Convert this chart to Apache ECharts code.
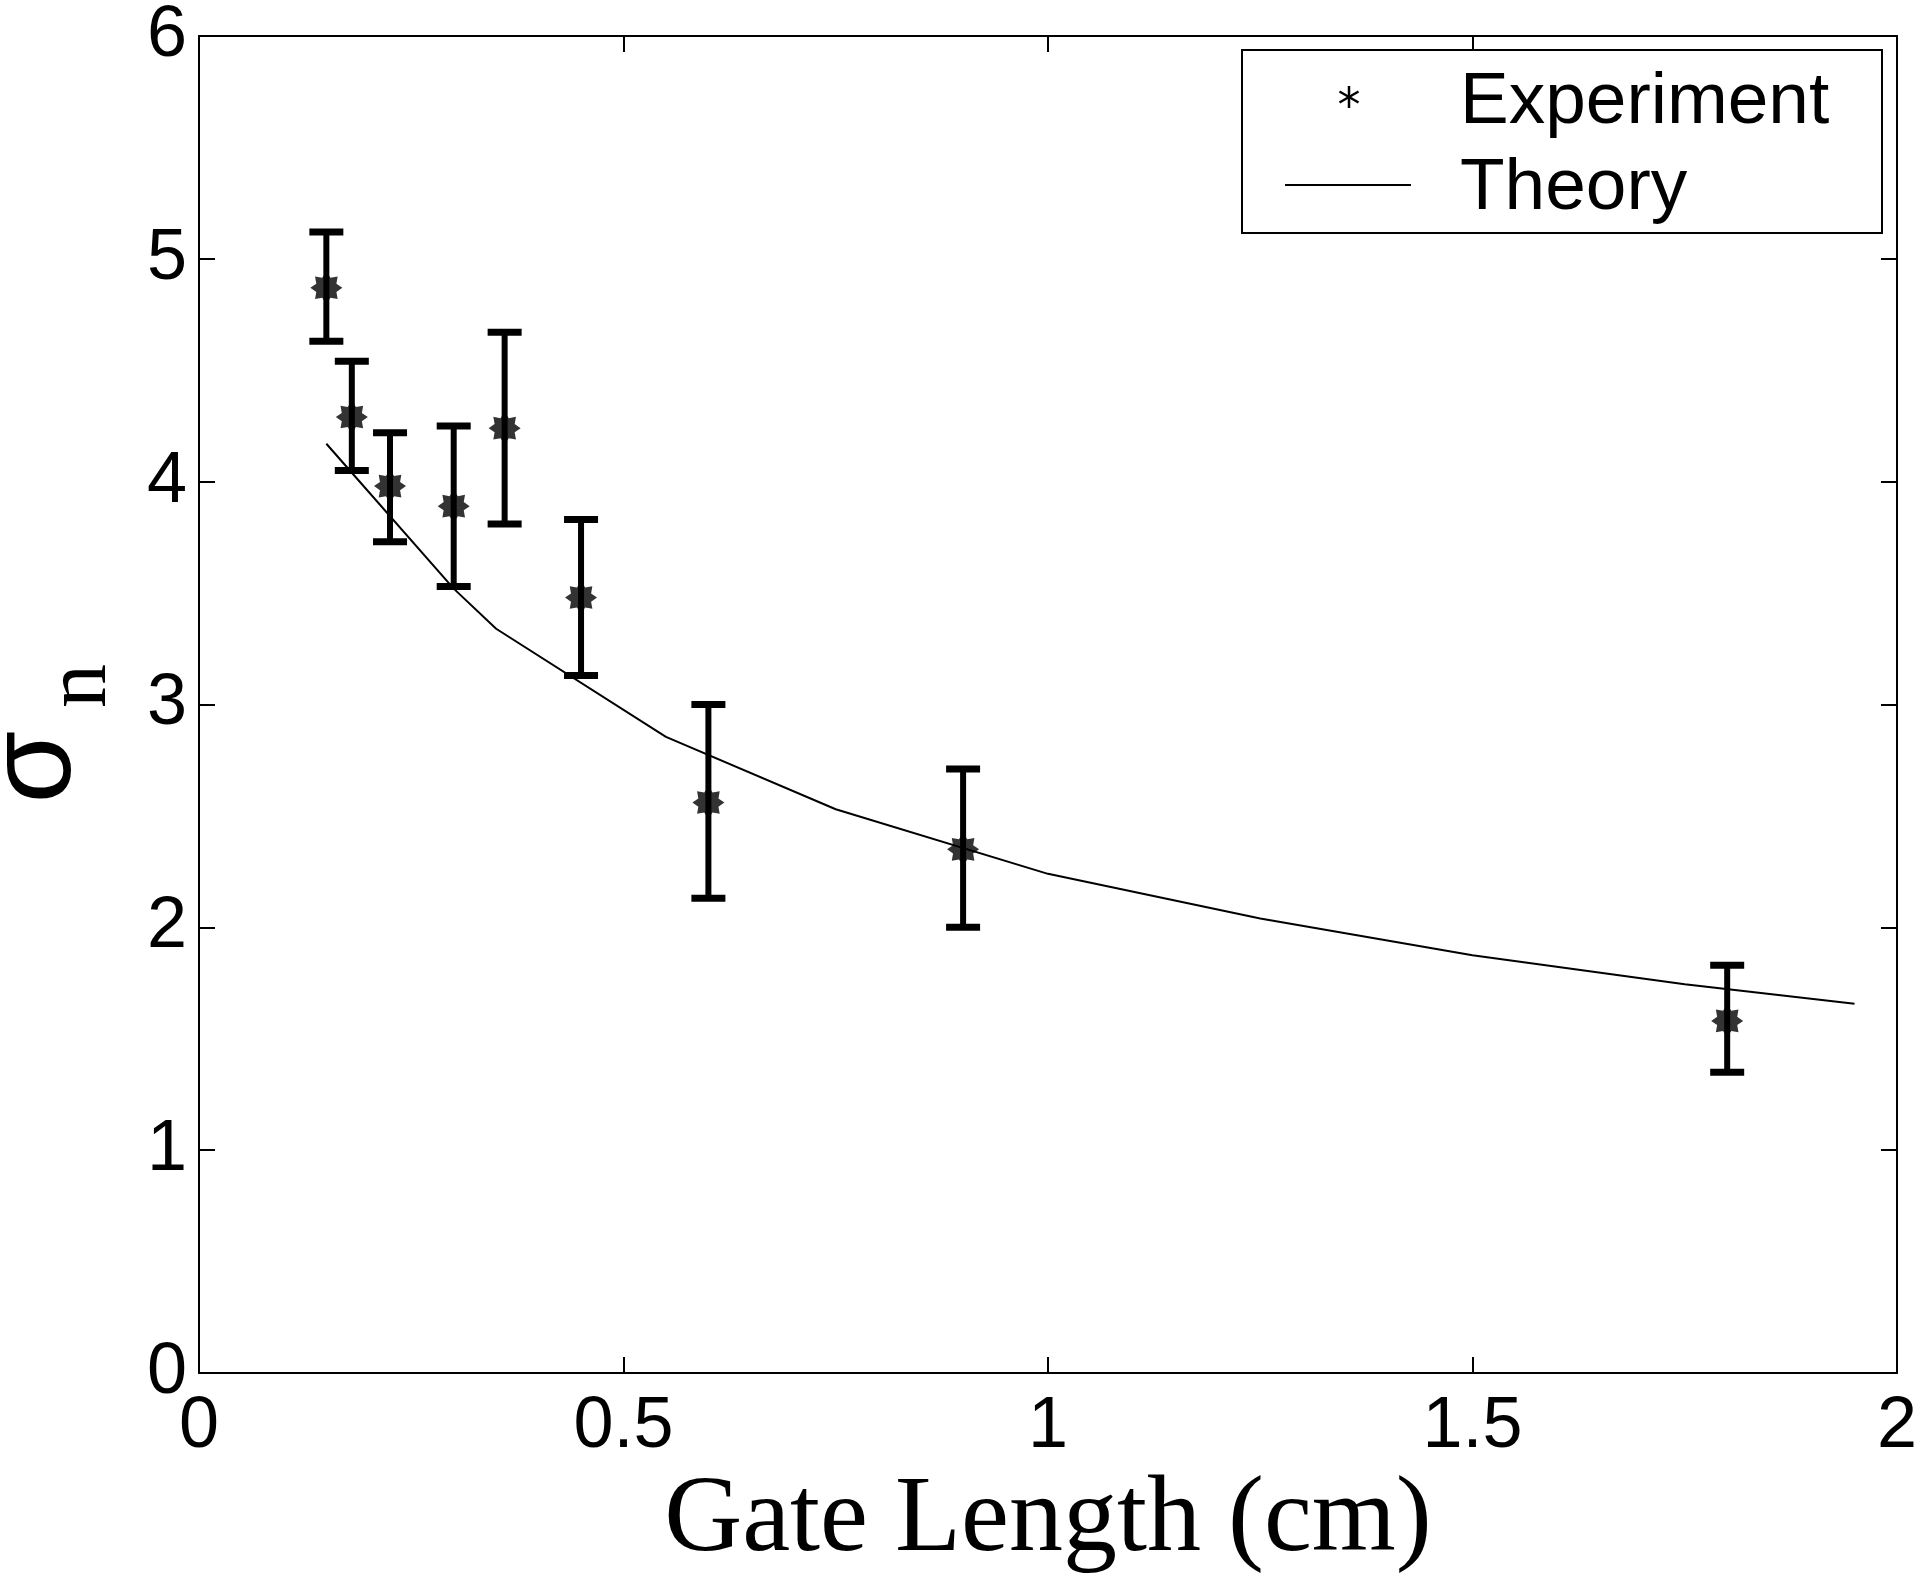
<!DOCTYPE html>
<html>
<head>
<meta charset="utf-8">
<script src="https://cdn.jsdelivr.net/npm/echarts@6/dist/echarts.min.js"></script>
<style>
html,body{margin:0;padding:0;background:#fff;}
#chart{width:1920px;height:1581px;}
</style>
</head>
<body>
<div id="chart"></div>
<script>
// ---- data ----
const gateLength = [0.15, 0.18, 0.225, 0.30, 0.36, 0.45, 0.60, 0.90, 1.80];
const sigmaExp   = [4.87, 4.29, 3.98, 3.89, 4.24, 3.48, 2.56, 2.35, 1.58];
const errUpper   = [5.12, 4.54, 4.22, 4.25, 4.67, 3.83, 3.00, 2.71, 1.83];
const errLower   = [4.63, 4.05, 3.73, 3.53, 3.81, 3.13, 2.13, 2.00, 1.35];
const theoryL    = [0.15, 0.30, 0.35, 0.55, 0.75, 1.00, 1.25, 1.50, 1.75, 1.95];
const theorySig  = [4.17, 3.52, 3.34, 2.855, 2.53, 2.24, 2.04, 1.875, 1.745, 1.657];
const xTicks = [0, 0.5, 1, 1.5, 2];
const yTicks = [0, 1, 2, 3, 4, 5, 6];
const xTitle = 'Gate Length (cm)';
const legendNames = ['Experiment', 'Theory'];

// ---- build ----
function starPath(n, ro, ri) {
  let d = '';
  for (let i = 0; i < 2 * n; i++) {
    const r = i % 2 === 0 ? ro : ri;
    const a = Math.PI * i / n - Math.PI / 2;
    const x = (50 + r * Math.cos(a)).toFixed(2);
    const y = (50 + r * Math.sin(a)).toFixed(2);
    d += (i === 0 ? 'M' : 'L') + x + ' ' + y + ' ';
  }
  return 'path://' + d + 'Z';
}
const STAR = starPath(8, 50, 34);

const expData = gateLength.map((x, i) => [x, sigmaExp[i]]);
const errData = gateLength.map((x, i) => [x, errUpper[i], errLower[i]]);
const theoryData = theoryL.map((x, i) => [x, theorySig[i]]);

const labelFont = {fontFamily: 'Liberation Sans, Arial, sans-serif', fontSize: 72, color: '#000'};
const axisCommon = {
  axisLine: {show: true, onZero: false, lineStyle: {color: '#000', width: 2}},
  axisTick: {show: true, inside: true, length: 16, lineStyle: {color: '#000', width: 2}},
  splitLine: {show: false}
};

const chart = echarts.init(document.getElementById('chart'), null, {renderer: 'canvas'});
chart.setOption({
  backgroundColor: '#fff',
  animation: false,
  grid: {left: 199, right: 21, top: 29, bottom: 208, show: false},
  xAxis: [
    Object.assign({
      type: 'value', position: 'bottom', min: xTicks[0], max: xTicks[xTicks.length - 1], interval: 0.5,
      axisLabel: Object.assign({margin: 18, formatter: v => String(v)}, labelFont),
      name: xTitle, nameLocation: 'middle', nameGap: 66,
      nameTextStyle: {fontFamily: 'Liberation Serif, Times New Roman, serif', fontSize: 108, color: '#000'}
    }, axisCommon),
    Object.assign({
      type: 'value', position: 'top', min: xTicks[0], max: xTicks[xTicks.length - 1], interval: 0.5,
      axisLabel: {show: false}
    }, axisCommon)
  ],
  yAxis: [
    Object.assign({
      type: 'value', position: 'left', min: yTicks[0], max: yTicks[yTicks.length - 1], interval: 1,
      axisLabel: Object.assign({margin: 12}, labelFont)
    }, axisCommon),
    Object.assign({
      type: 'value', position: 'right', min: yTicks[0], max: yTicks[yTicks.length - 1], interval: 1,
      axisLabel: {show: false}
    }, axisCommon)
  ],
  series: [
    {
      name: legendNames[1], type: 'line', data: theoryData, symbol: 'none',
      lineStyle: {color: '#000', width: 2}, z: 2
    },
    {
      type: 'custom', data: errData, z: 3,
      renderItem: function (params, api) {
        const top = api.coord([api.value(0), api.value(1)]);
        const bot = api.coord([api.value(0), api.value(2)]);
        const hw = 17;
        const st = {stroke: '#000', lineWidth: 6};
        const cs = {stroke: '#000', lineWidth: 7};
        return {
          type: 'group',
          children: [
            {type: 'line', shape: {x1: top[0], y1: top[1], x2: bot[0], y2: bot[1]}, style: st},
            {type: 'line', shape: {x1: top[0] - hw, y1: top[1], x2: top[0] + hw, y2: top[1]}, style: cs},
            {type: 'line', shape: {x1: bot[0] - hw, y1: bot[1], x2: bot[0] + hw, y2: bot[1]}, style: cs}
          ]
        };
      }
    },
    {
      name: legendNames[0], type: 'scatter', data: expData, symbol: STAR, symbolSize: 32,
      itemStyle: {color: '#000'}, z: 4
    }
  ],
  graphic: [
    // y axis title sigma_n
    {type: 'text', x: 37, y: 767, rotation: Math.PI / 2,
     style: {text: 'σ', fontFamily: 'Liberation Sans, Arial, sans-serif', fontSize: 118, fill: '#000', align: 'center', verticalAlign: 'middle'}},
    {type: 'text', x: 82, y: 686, rotation: Math.PI / 2,
     style: {text: 'n', fontFamily: 'Liberation Serif, Times New Roman, serif', fontSize: 88, fill: '#000', align: 'center', verticalAlign: 'middle'}},
    // legend box
    {type: 'rect', shape: {x: 1242, y: 50, width: 640, height: 183}, z: 10,
     style: {fill: '#fff', stroke: '#000', lineWidth: 2}},
    // legend star icon
    {type: 'line', z: 11, shape: {x1: 1349, y1: 86, x2: 1349, y2: 108}, style: {stroke: '#000', lineWidth: 2.5}},
    {type: 'line', z: 11, shape: {x1: 1339.5, y1: 91.5, x2: 1358.5, y2: 102.5}, style: {stroke: '#000', lineWidth: 2.5}},
    {type: 'line', z: 11, shape: {x1: 1339.5, y1: 102.5, x2: 1358.5, y2: 91.5}, style: {stroke: '#000', lineWidth: 2.5}},
    // legend theory line
    {type: 'line', z: 11, shape: {x1: 1285, y1: 185, x2: 1411, y2: 185}, style: {stroke: '#000', lineWidth: 2}},
    {type: 'text', x: 1460, y: 103, z: 11,
     style: {text: legendNames[0], fontFamily: 'Liberation Sans, Arial, sans-serif', fontSize: 73, fill: '#000', align: 'left', verticalAlign: 'middle'}},
    {type: 'text', x: 1460, y: 189, z: 11,
     style: {text: legendNames[1], fontFamily: 'Liberation Sans, Arial, sans-serif', fontSize: 73, fill: '#000', align: 'left', verticalAlign: 'middle'}}
  ]
});
</script>
</body>
</html>
